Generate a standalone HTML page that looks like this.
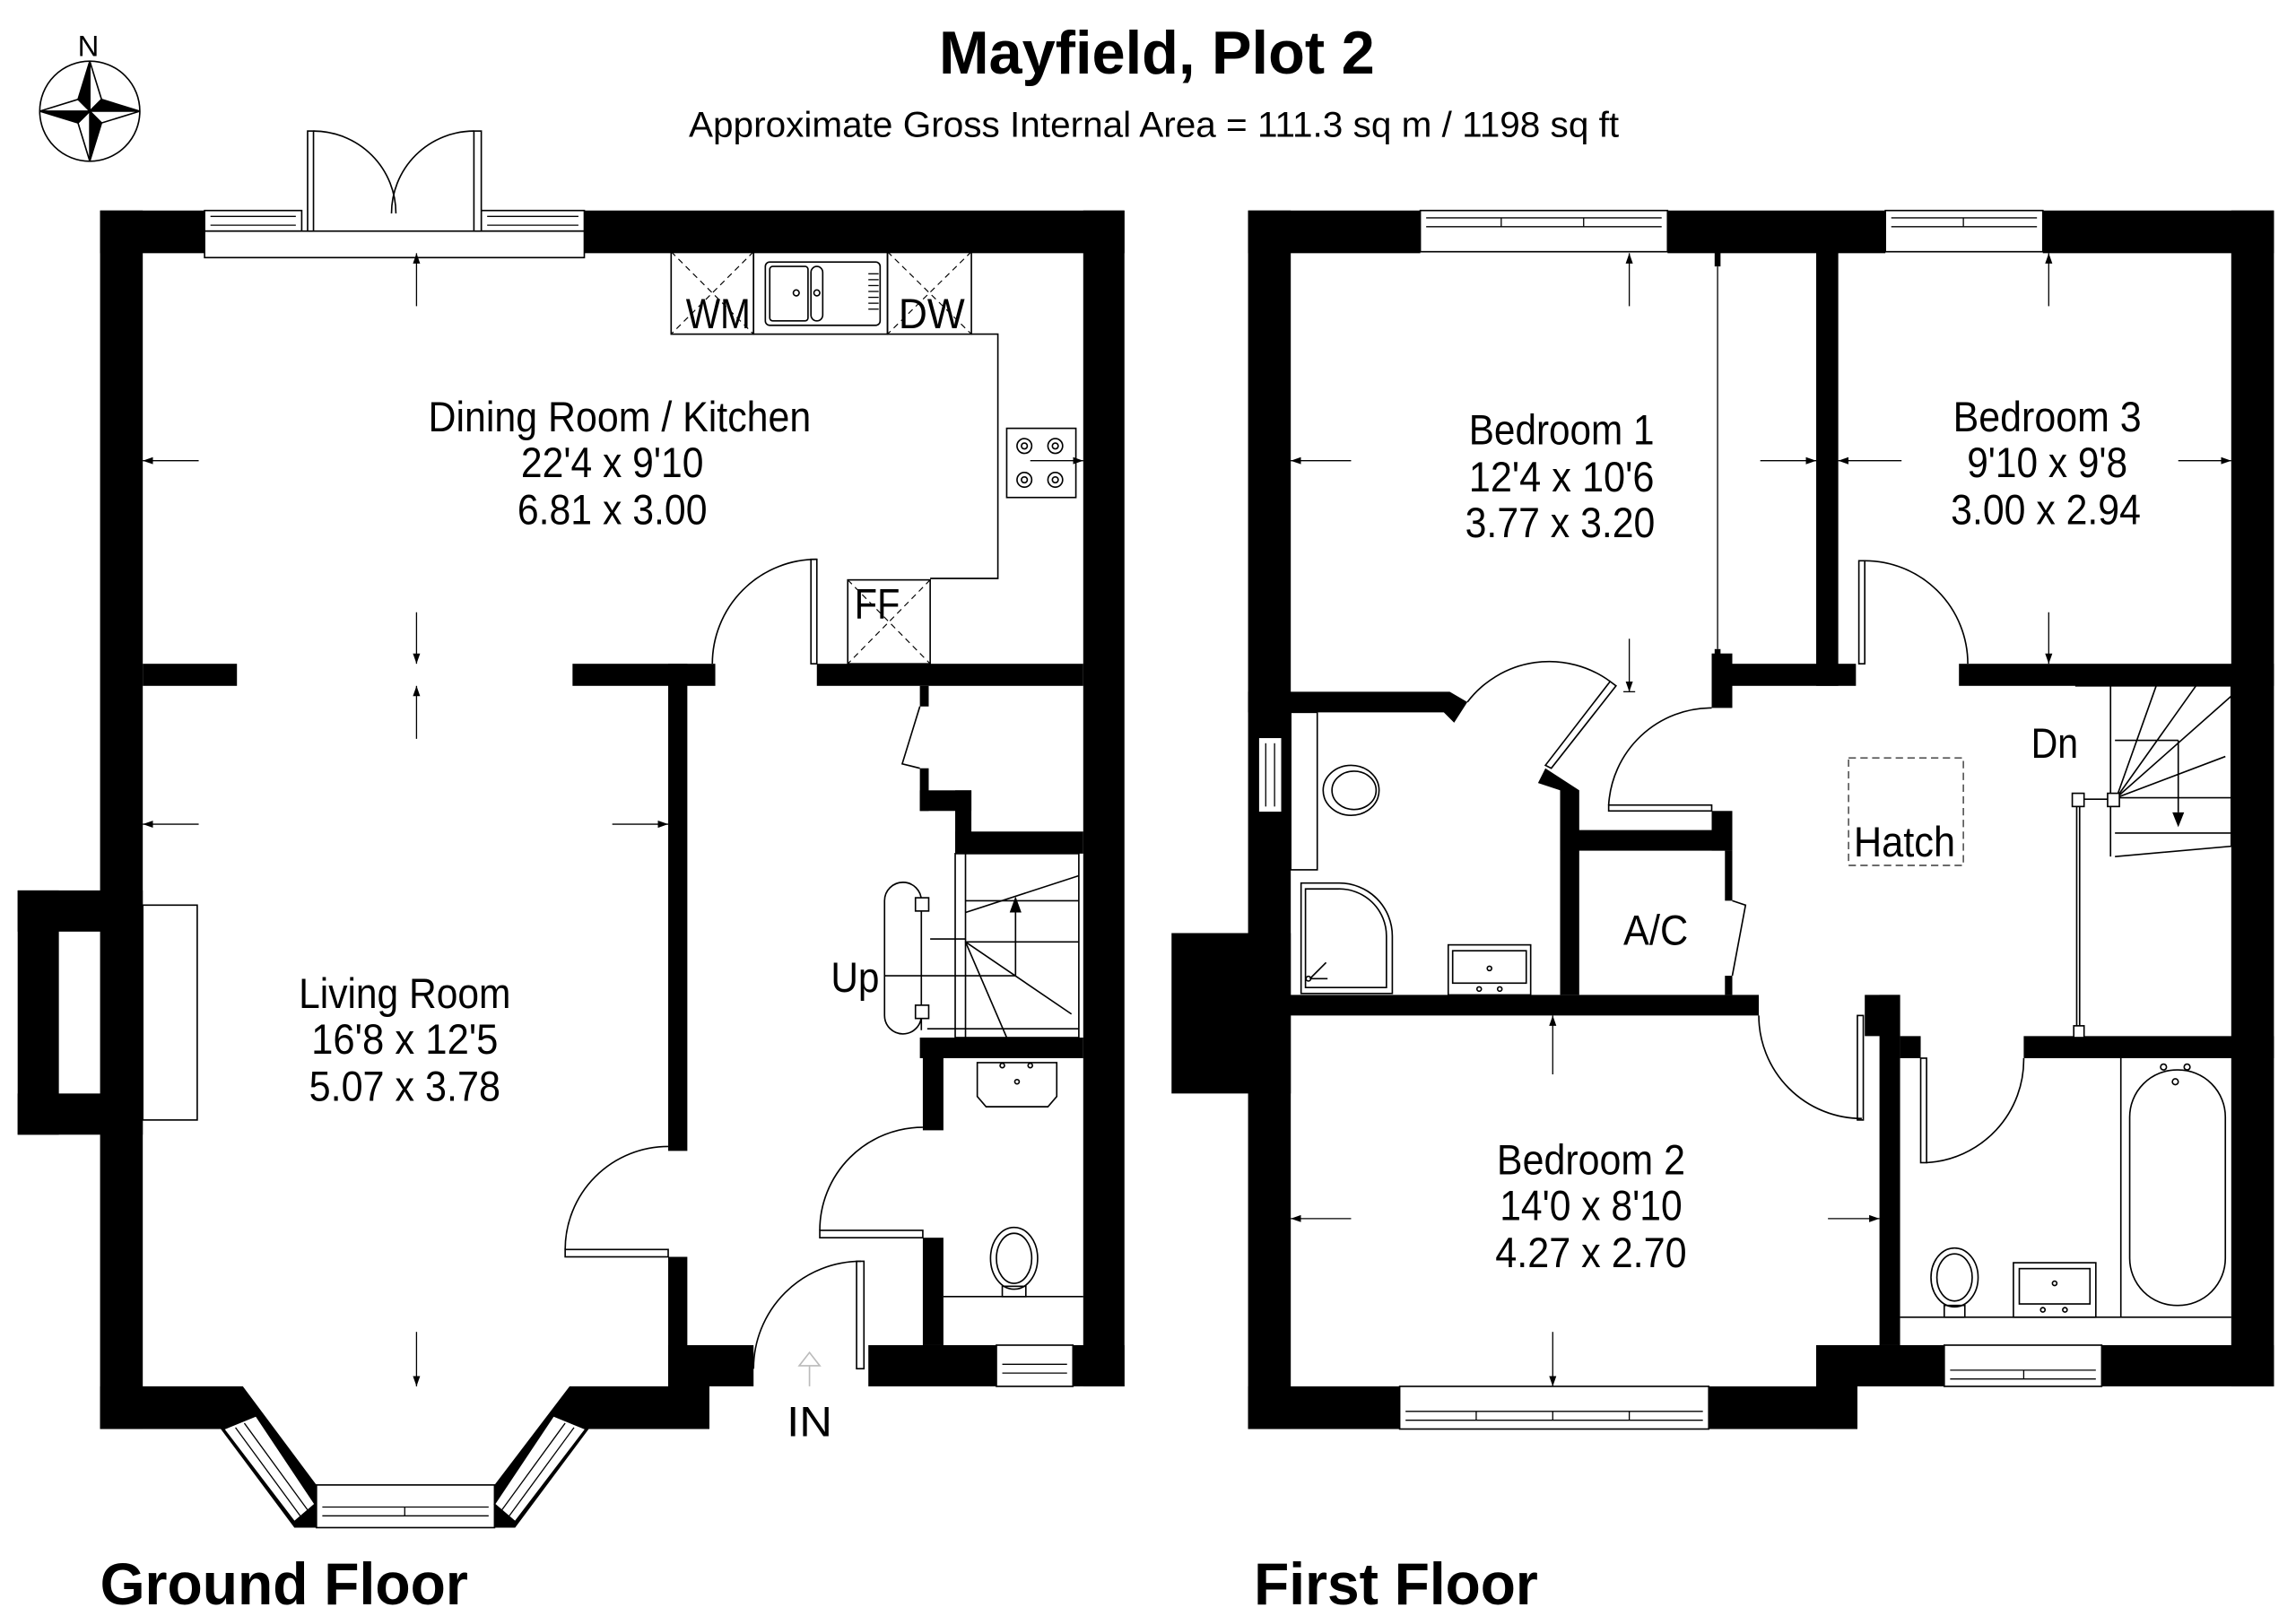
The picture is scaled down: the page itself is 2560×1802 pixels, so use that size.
<!DOCTYPE html>
<html><head><meta charset="utf-8"><style>
html,body{margin:0;padding:0;background:#fff;}
svg{display:block;}
text{font-family:"Liberation Sans",Arial,sans-serif;fill:#000;}
</style></head><body>
<svg width="2560" height="1802" viewBox="0 0 1560 1098" xmlns="http://www.w3.org/2000/svg">
<rect width="1560" height="1098" fill="#fff"/>
<defs>
<marker id="ah" viewBox="0 0 10 10" refX="10" refY="5" markerWidth="7" markerHeight="7" orient="auto-start-reverse" markerUnits="userSpaceOnUse"><path d="M0,1.5 L10,5 L0,8.5 z" fill="#000"/></marker>
</defs>

<!-- Titles -->
<text x="638" y="50" font-size="41" font-weight="bold" textLength="296" lengthAdjust="spacingAndGlyphs">Mayfield, Plot 2</text>
<text x="468" y="93" font-size="24" textLength="632" lengthAdjust="spacingAndGlyphs">Approximate Gross Internal Area = 111.3 sq m / 1198 sq ft</text>
<text x="68" y="1090" font-size="40" font-weight="bold" textLength="250" lengthAdjust="spacingAndGlyphs">Ground Floor</text>
<text x="852" y="1090" font-size="40" font-weight="bold" textLength="193" lengthAdjust="spacingAndGlyphs">First Floor</text>

<!-- Compass -->
<g stroke="#000" stroke-width="1">
<circle cx="61" cy="75.5" r="34" fill="none"/>
<polygon points="61,41.5 69,67.5 61,75.5" fill="#fff"/>
<polygon points="61,41.5 53,67.5 61,75.5" fill="#000"/>
<polygon points="95,75.5 69,67.5 61,75.5" fill="#000"/>
<polygon points="95,75.5 69,83.5 61,75.5" fill="#fff"/>
<polygon points="61,109.5 69,83.5 61,75.5" fill="#000"/>
<polygon points="61,109.5 53,83.5 61,75.5" fill="#fff"/>
<polygon points="27,75.5 53,83.5 61,75.5" fill="#000"/>
<polygon points="27,75.5 53,67.5 61,75.5" fill="#fff"/>
</g>
<text x="60" y="38" font-size="20" text-anchor="middle">N</text>

<!-- ================= GROUND FLOOR ================= -->
<g fill="#000">
<rect x="68" y="143" width="71" height="29"/>
<rect x="397" y="143" width="367" height="29"/>
<rect x="68" y="143" width="29" height="828"/>
<rect x="736" y="143" width="28" height="799"/>
<rect x="12" y="605" width="85" height="28"/>
<rect x="12" y="743" width="85" height="28"/>
<rect x="12" y="605" width="28" height="166"/>
<polygon points="68,942 165,942 215,1009 336,1009 387,942 454,942 454,914 512,914 512,942 482,942 482,971 400,971 350,1038 200,1038 150,971 68,971"/>
<rect x="97" y="451" width="64" height="15"/>
<rect x="389" y="451" width="97" height="15"/>
<rect x="555" y="451" width="181" height="15"/>
<rect x="454" y="451" width="13" height="331"/>
<rect x="454" y="854" width="13" height="88"/>
<rect x="590" y="914" width="174" height="28"/>
<rect x="625" y="466" width="6" height="14"/>
<rect x="625" y="522" width="6" height="29"/>
<rect x="625" y="537" width="35" height="14"/>
<rect x="649" y="537" width="11" height="43"/>
<rect x="649" y="565" width="87" height="15"/>
<rect x="625" y="705" width="111" height="14"/>
<rect x="627" y="705" width="14" height="63"/>
<rect x="627" y="841" width="14" height="73"/>
</g>
<g fill="#fff" stroke="#000" stroke-width="1">
<rect x="139" y="143" width="66" height="14"/>
<rect x="327" y="143" width="70" height="14"/>
<rect x="139" y="157" width="258" height="18"/>
<rect x="215" y="1009" width="121" height="29"/>
<rect x="677" y="914" width="52" height="28"/>
<rect x="97" y="615" width="37" height="146"/>
</g>
<g stroke="#000" stroke-width="0.8" fill="none">
<line x1="143" y1="147" x2="201" y2="147"/><line x1="143" y1="153" x2="201" y2="153"/>
<line x1="331" y1="147" x2="393" y2="147"/><line x1="331" y1="153" x2="393" y2="153"/>
<line x1="219" y1="1024" x2="332" y2="1024"/><line x1="219" y1="1030" x2="332" y2="1030"/><line x1="275" y1="1024" x2="275" y2="1030"/>
<line x1="681" y1="927" x2="725" y2="927"/><line x1="681" y1="933" x2="725" y2="933"/>
</g>
<g fill="#fff" stroke="#000" stroke-width="1">
<polygon points="152,971 174,962 214,1022 200,1034"/>
<polygon points="398,971 376,962 336,1022 350,1034"/>
</g>
<g stroke="#000" stroke-width="0.8" fill="none">
<line x1="160" y1="970" x2="204" y2="1030"/><line x1="166" y1="967" x2="209" y2="1026"/>
<line x1="390" y1="970" x2="346" y2="1030"/><line x1="384" y1="967" x2="341" y2="1026"/>
</g>
<g stroke="#000" stroke-width="1" fill="#fff">
<rect x="209" y="89" width="4" height="68"/>
<rect x="322" y="89" width="5" height="68"/>
</g>
<g stroke="#000" stroke-width="1" fill="none">
<path d="M213,89 A56,56 0 0 1 269,145"/>
<path d="M322,89 A56,56 0 0 0 266,145"/>
<rect x="456" y="171" width="56" height="56"/>
<rect x="512" y="171" width="91" height="56"/>
<rect x="603" y="171" width="57" height="56"/>
<polyline points="660,227 678,227 678,393 632,393"/>
<rect x="576" y="394" width="56" height="57"/>
<rect x="684" y="291" width="47" height="47"/>
<rect x="520" y="178" width="78" height="43" rx="3"/>
<rect x="523" y="181" width="26" height="37" rx="2"/>
<rect x="551" y="181" width="8" height="37" rx="4"/>
<circle cx="541" cy="199" r="2"/><circle cx="555" cy="199" r="2"/>
<circle cx="696" cy="303" r="5"/><circle cx="696" cy="303" r="2"/>
<circle cx="717" cy="303" r="5"/><circle cx="717" cy="303" r="2"/>
<circle cx="696" cy="326" r="5"/><circle cx="696" cy="326" r="2"/>
<circle cx="717" cy="326" r="5"/><circle cx="717" cy="326" r="2"/>
<rect x="551" y="380" width="4" height="71" fill="#fff"/>
<path d="M484,451 A71,71 0 0 1 555,380"/>
<rect x="384" y="849" width="70" height="5" fill="#fff"/>
<path d="M384,849 A70,70 0 0 1 454,779"/>
<rect x="582" y="857" width="5" height="73" fill="#fff"/>
<path d="M512,930 A73,73 0 0 1 585,857"/>
<rect x="557" y="836" width="70" height="5" fill="#fff"/>
<path d="M557,836 A70,70 0 0 1 627,766"/>
<polyline points="625,480 613,519 625,522"/>
<path d="M664,722 H718 V745 L712,752 H670 L664,745 Z"/>
<circle cx="681" cy="724" r="1.5"/><circle cx="700" cy="724" r="1.5"/><circle cx="691" cy="735" r="1.5"/>
<ellipse cx="689" cy="855" rx="16" ry="21"/>
<ellipse cx="689" cy="855" rx="12" ry="17"/>
<line x1="641" y1="881" x2="736" y2="881"/>
<rect x="681" y="874" width="16" height="7"/>
<rect x="649" y="580" width="84" height="125"/>
<polyline points="656,580 656,638 632,638"/>
<line x1="656" y1="612" x2="733" y2="612"/>
<line x1="656" y1="640" x2="733" y2="640"/>
<line x1="656" y1="620" x2="733" y2="595"/>
<line x1="656" y1="640" x2="728" y2="689"/>
<line x1="656" y1="640" x2="684" y2="705"/>
<line x1="656" y1="638" x2="656" y2="705"/>
<line x1="630" y1="699" x2="733" y2="699"/>
<polyline points="601,663 690,663 690,617"/>
<line x1="626" y1="614" x2="626" y2="700"/>
<path d="M601,612 A12,12 0 0 1 626,612 M601,612 V690 A12,12 0 0 0 626,690"/>
<rect x="622" y="610" width="9" height="9" fill="#fff"/>
<rect x="622" y="683" width="9" height="9" fill="#fff"/>
</g>
<g stroke="#000" stroke-width="0.7" fill="none" stroke-dasharray="4,3">
<line x1="456" y1="171" x2="512" y2="227"/><line x1="512" y1="171" x2="456" y2="227"/>
<line x1="603" y1="171" x2="660" y2="227"/><line x1="660" y1="171" x2="603" y2="227"/>
<line x1="576" y1="394" x2="632" y2="451"/><line x1="632" y1="394" x2="576" y2="451"/>
</g>
<polygon points="690,609 686,620 694,620" fill="#000"/>
<g stroke="#000" stroke-width="0.8" fill="none">
<line x1="590" y1="186" x2="597" y2="186"/><line x1="590" y1="190" x2="597" y2="190"/><line x1="590" y1="194" x2="597" y2="194"/><line x1="590" y1="198" x2="597" y2="198"/><line x1="590" y1="202" x2="597" y2="202"/><line x1="590" y1="206" x2="597" y2="206"/><line x1="590" y1="210" x2="597" y2="210"/>
</g>
<path d="M550,942 V928 H543 L550,919 L557,928 H550" fill="none" stroke="#bbb" stroke-width="1"/>

<g stroke="#000" stroke-width="0.8" marker-end="url(#ah)">
<line x1="283" y1="208" x2="283" y2="172"/>
<line x1="283" y1="416" x2="283" y2="451"/>
<line x1="283" y1="502" x2="283" y2="466"/>
<line x1="135" y1="313" x2="97" y2="313"/>
<line x1="700" y1="313" x2="736" y2="313"/>
<line x1="135" y1="560" x2="97" y2="560"/>
<line x1="416" y1="560" x2="454" y2="560"/>
<line x1="283" y1="905" x2="283" y2="942"/>
</g>

<g font-size="29" text-anchor="middle" lengthAdjust="spacingAndGlyphs">
<text x="421" y="293" textLength="260" lengthAdjust="spacingAndGlyphs">Dining Room / Kitchen</text>
<text x="416" y="324" textLength="124" lengthAdjust="spacingAndGlyphs">22'4 x 9'10</text>
<text x="416" y="356" textLength="129" lengthAdjust="spacingAndGlyphs">6.81 x 3.00</text>
<text x="275" y="685" textLength="144" lengthAdjust="spacingAndGlyphs">Living Room</text>
<text x="275" y="716" textLength="127" lengthAdjust="spacingAndGlyphs">16'8 x 12'5</text>
<text x="275" y="748" textLength="130" lengthAdjust="spacingAndGlyphs">5.07 x 3.78</text>
<text x="488" y="223" textLength="44" lengthAdjust="spacingAndGlyphs">WM</text>
<text x="633" y="223" textLength="45" lengthAdjust="spacingAndGlyphs">DW</text>
<text x="596" y="420" textLength="31" lengthAdjust="spacingAndGlyphs">FF</text>
<text x="581" y="674" textLength="33" lengthAdjust="spacingAndGlyphs">Up</text>
<text x="550" y="976" textLength="31" lengthAdjust="spacingAndGlyphs">IN</text>
</g>

<!-- ================= FIRST FLOOR ================= -->
<g fill="#000">
<rect x="848" y="143" width="117" height="29"/>
<rect x="1133" y="143" width="148" height="29"/>
<rect x="1388" y="143" width="157" height="29"/>
<rect x="848" y="143" width="29" height="828"/>
<rect x="1516" y="143" width="29" height="799"/>
<rect x="796" y="634" width="81" height="109"/>
<rect x="1234" y="171" width="15" height="295"/>
<rect x="1165" y="171" width="4" height="10"/>
<rect x="1165" y="441" width="4" height="10"/>
<rect x="1165" y="451" width="96" height="15"/>
<rect x="1331" y="451" width="214" height="15"/>
<rect x="1163" y="444" width="14" height="37"/>
<polygon points="848,470 985,470 997,477 988,491 981,484 848,484"/>
<polygon points="1050,522 1073,537 1073,676 1060,676 1060,537 1045,532"/>
<rect x="1060" y="564" width="117" height="14"/>
<rect x="1163" y="551" width="14" height="27"/>
<rect x="1172" y="578" width="5" height="34"/>
<rect x="1172" y="663" width="5" height="13"/>
<rect x="848" y="676" width="347" height="14"/>
<rect x="1267" y="676" width="24" height="28"/>
<rect x="1277" y="676" width="14" height="238"/>
<rect x="1291" y="704" width="14" height="15"/>
<rect x="1375" y="704" width="170" height="15"/>
<rect x="1234" y="914" width="311" height="28"/>
<rect x="848" y="942" width="414" height="29"/>
<rect x="1234" y="914" width="28" height="57"/>
</g>
<g fill="#fff" stroke="#000" stroke-width="1">
<rect x="965" y="143" width="168" height="28"/>
<rect x="1281" y="143" width="107" height="28"/>
<rect x="951" y="942" width="210" height="29"/>
<rect x="1321" y="914" width="107" height="28"/>
<rect x="855" y="501" width="16" height="51"/>
</g>
<g stroke="#000" stroke-width="0.8" fill="none">
<line x1="969" y1="148" x2="1129" y2="148"/><line x1="969" y1="154" x2="1129" y2="154"/>
<line x1="1020" y1="148" x2="1020" y2="154"/><line x1="1076" y1="148" x2="1076" y2="154"/>
<line x1="1285" y1="148" x2="1384" y2="148"/><line x1="1285" y1="154" x2="1384" y2="154"/><line x1="1334" y1="148" x2="1334" y2="154"/>
<line x1="955" y1="959" x2="1157" y2="959"/><line x1="955" y1="965" x2="1157" y2="965"/>
<line x1="1003" y1="959" x2="1003" y2="965"/><line x1="1055" y1="959" x2="1055" y2="965"/><line x1="1107" y1="959" x2="1107" y2="965"/>
<line x1="1325" y1="931" x2="1424" y2="931"/><line x1="1325" y1="937" x2="1424" y2="937"/><line x1="1375" y1="931" x2="1375" y2="937"/>
<line x1="860" y1="505" x2="860" y2="548"/><line x1="866" y1="505" x2="866" y2="548"/>
<line x1="1167" y1="181" x2="1167" y2="441"/>
</g>
<g stroke="#000" stroke-width="1" fill="none">
<rect x="1263" y="381" width="4" height="70" fill="#fff"/>
<path d="M1267,381 A70,70 0 0 1 1337,451"/>
<polygon points="1050,520 1054,522 1098,466 1094,463" fill="#fff"/>
<path d="M997,477 A70,70 0 0 1 1094,463"/>
<rect x="1093" y="547" width="70" height="4" fill="#fff"/>
<path d="M1093,547 A70,70 0 0 1 1163,481"/>
<polyline points="1177,612 1186,615 1177,663"/>
<rect x="1262" y="690" width="4" height="71" fill="#fff"/>
<path d="M1195,690 A70,70 0 0 0 1265,760"/>
<rect x="1305" y="719" width="4" height="71" fill="#fff"/>
<path d="M1309,790 A70,70 0 0 0 1375,719"/>
<rect x="877" y="484" width="18" height="107"/>
<ellipse cx="918" cy="537" rx="19" ry="17"/>
<ellipse cx="920" cy="537" rx="15" ry="13"/>
<path d="M884,600 H910 A36,36 0 0 1 946,636 V675 H884 Z"/>
<path d="M887,604 H909 A32,32 0 0 1 942,636 V671 H887 Z"/>
<line x1="890" y1="665" x2="901" y2="654"/><line x1="890" y1="665" x2="902" y2="665"/>
<circle cx="889" cy="665" r="1.6"/>
<rect x="984" y="642" width="56" height="34"/>
<rect x="987" y="646" width="50" height="22"/>
<circle cx="1012" cy="658" r="1.5"/><circle cx="1005" cy="672" r="1.5"/><circle cx="1019" cy="672" r="1.5"/>
<line x1="1291" y1="895" x2="1516" y2="895"/>
<line x1="1441" y1="719" x2="1441" y2="895"/>
<rect x="1447" y="727" width="65" height="160" rx="32"/>
<circle cx="1470" cy="725" r="2"/><circle cx="1486" cy="725" r="2"/><circle cx="1478" cy="735" r="2"/>
<ellipse cx="1328" cy="868" rx="16" ry="20"/>
<ellipse cx="1328" cy="868" rx="12" ry="16"/>
<rect x="1321" y="887" width="14" height="8"/>
<rect x="1368" y="858" width="56" height="37"/>
<rect x="1372" y="862" width="48" height="24"/>
<circle cx="1396" cy="872" r="1.5"/><circle cx="1388" cy="890" r="1.5"/><circle cx="1403" cy="890" r="1.5"/>
<polyline points="1410,466 1516,466 1516,575 1437,582"/>
<line x1="1434" y1="466" x2="1434" y2="582"/>
<line x1="1438" y1="542" x2="1516" y2="473"/>
<line x1="1438" y1="542" x2="1492" y2="466"/>
<line x1="1438" y1="542" x2="1465" y2="466"/>
<line x1="1438" y1="542" x2="1512" y2="514"/>
<line x1="1438" y1="542" x2="1516" y2="542"/>
<line x1="1437" y1="503" x2="1480" y2="503"/>
<line x1="1480" y1="503" x2="1480" y2="552"/>
<line x1="1437" y1="566" x2="1516" y2="566"/>
<line x1="1413" y1="547" x2="1413" y2="697"/>
<line x1="1411" y1="547" x2="1411" y2="697"/>
<line x1="1415" y1="543" x2="1434" y2="543"/>
<rect x="1408" y="539" width="8" height="9" fill="#fff"/>
<rect x="1432" y="539" width="8" height="9" fill="#fff"/>
<rect x="1409" y="697" width="7" height="8" fill="#fff"/>
</g>
<polygon points="1480,562 1476,552 1484,552" fill="#000"/>
<rect x="1256" y="515" width="78" height="73" fill="none" stroke="#555" stroke-width="1" stroke-dasharray="5,3"/>

<g stroke="#000" stroke-width="0.8" marker-end="url(#ah)">
<line x1="1107" y1="208" x2="1107" y2="172"/>
<line x1="1107" y1="434" x2="1107" y2="470"/>
<line x1="918" y1="313" x2="877" y2="313"/>
<line x1="1196" y1="313" x2="1234" y2="313"/>
<line x1="1292" y1="313" x2="1249" y2="313"/>
<line x1="1480" y1="313" x2="1516" y2="313"/>
<line x1="1392" y1="208" x2="1392" y2="172"/>
<line x1="1392" y1="416" x2="1392" y2="451"/>
<line x1="1055" y1="730" x2="1055" y2="690"/>
<line x1="1055" y1="905" x2="1055" y2="942"/>
<line x1="918" y1="828" x2="877" y2="828"/>
<line x1="1242" y1="828" x2="1277" y2="828"/>
</g>
<line x1="1103" y1="470" x2="1111" y2="470" stroke="#000" stroke-width="0.8"/>

<g font-size="29" text-anchor="middle">
<text x="1061" y="302" textLength="126" lengthAdjust="spacingAndGlyphs">Bedroom 1</text>
<text x="1061" y="334" textLength="126" lengthAdjust="spacingAndGlyphs">12'4 x 10'6</text>
<text x="1060" y="365" textLength="129" lengthAdjust="spacingAndGlyphs">3.77 x 3.20</text>
<text x="1391" y="293" textLength="128" lengthAdjust="spacingAndGlyphs">Bedroom 3</text>
<text x="1391" y="324" textLength="109" lengthAdjust="spacingAndGlyphs">9'10 x 9'8</text>
<text x="1390" y="356" textLength="129" lengthAdjust="spacingAndGlyphs">3.00 x 2.94</text>
<text x="1081" y="798" textLength="128" lengthAdjust="spacingAndGlyphs">Bedroom 2</text>
<text x="1081" y="829" textLength="124" lengthAdjust="spacingAndGlyphs">14'0 x 8'10</text>
<text x="1081" y="861" textLength="130" lengthAdjust="spacingAndGlyphs">4.27 x 2.70</text>
<text x="1125" y="642" textLength="44" lengthAdjust="spacingAndGlyphs">A/C</text>
<text x="1294" y="582" textLength="69" lengthAdjust="spacingAndGlyphs">Hatch</text>
<text x="1396" y="515" textLength="32" lengthAdjust="spacingAndGlyphs">Dn</text>
</g>
</svg>
</body></html>
